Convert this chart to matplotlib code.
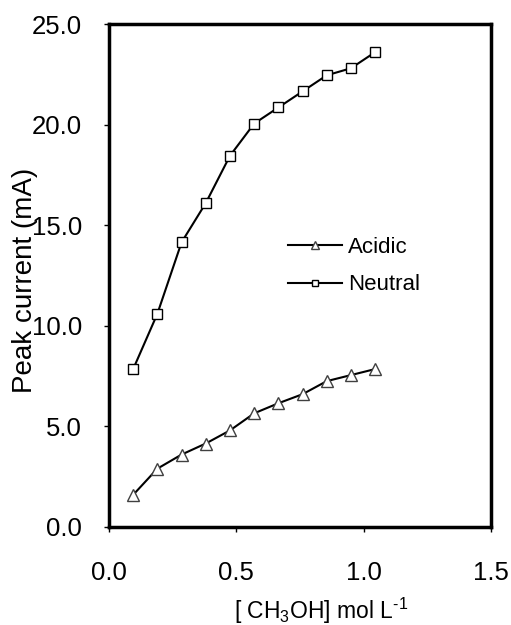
import matplotlib
matplotlib.use('Agg')
import matplotlib.pyplot as plt

# methanol concentration (mol/L) and peak current (mA)
conc = [0.095, 0.19, 0.285, 0.38, 0.475, 0.57, 0.665, 0.76, 0.855, 0.95, 1.045]
acidic = [1.6, 2.9, 3.6, 4.15, 4.8, 5.65, 6.15, 6.6, 7.25, 7.55, 7.85]
neutral = [7.85, 10.6, 14.15, 16.1, 18.45, 20.05, 20.85, 21.65, 22.45, 22.8, 23.6]

x_ticks = [0.0, 0.5, 1.0, 1.5]
y_ticks = [0.0, 5.0, 10.0, 15.0, 20.0, 25.0]

plt.rcParams['font.family'] = ['Liberation Sans', 'DejaVu Sans']
plt.rcParams['mathtext.fontset'] = 'custom'
plt.rcParams['mathtext.rm'] = 'Liberation Sans'
plt.rcParams['mathtext.it'] = 'Liberation Sans:italic'

fig = plt.figure(figsize=(5.11, 6.25), dpi=100)
ax = fig.add_axes([109 / 511, 1 - 527 / 625, (491 - 109) / 511, (527 - 24) / 625])

ax.plot(conc, acidic, color='black', lw=1.5, marker='^', ms=9,
        mfc='white', mec='#404040', mew=1.0, label='Acidic')
ax.plot(conc, neutral, color='black', lw=1.5, marker='s', ms=7.5,
        mfc='white', mec='black', mew=1.0, label='Neutral')

ax.set_xlim(0, 1.5)
ax.set_ylim(0, 25)
ax.set_xticks(x_ticks)
ax.set_yticks(y_ticks)
ax.set_xticklabels([f'{v:.1f}' for v in x_ticks])
ax.set_yticklabels([f'{v:.1f}' for v in y_ticks])
ax.tick_params(direction='out', length=3.6, width=1, labelsize=18.5)
ax.tick_params(axis='x', pad=21)
ax.tick_params(axis='y', pad=16)

for s in ax.spines.values():
    s.set_linewidth(2.5)

ax.set_xlabel(r'[ CH$_3$OH] mol L$^{\text{-}1}$', fontsize=16.5)
ax.xaxis.set_label_coords(0.556, -0.136)
ax.set_ylabel('Peak current (mA)', fontsize=20)
ax.yaxis.set_label_coords(-0.185, 0.49)

ax.legend(loc='upper left', bbox_to_anchor=(0.4686, 0.576), frameon=False,
          fontsize=16, handlelength=2.45, handletextpad=0.27,
          labelspacing=0.73, borderpad=0, borderaxespad=0, markerscale=0.6)

fig.savefig('out.png', dpi=100)
